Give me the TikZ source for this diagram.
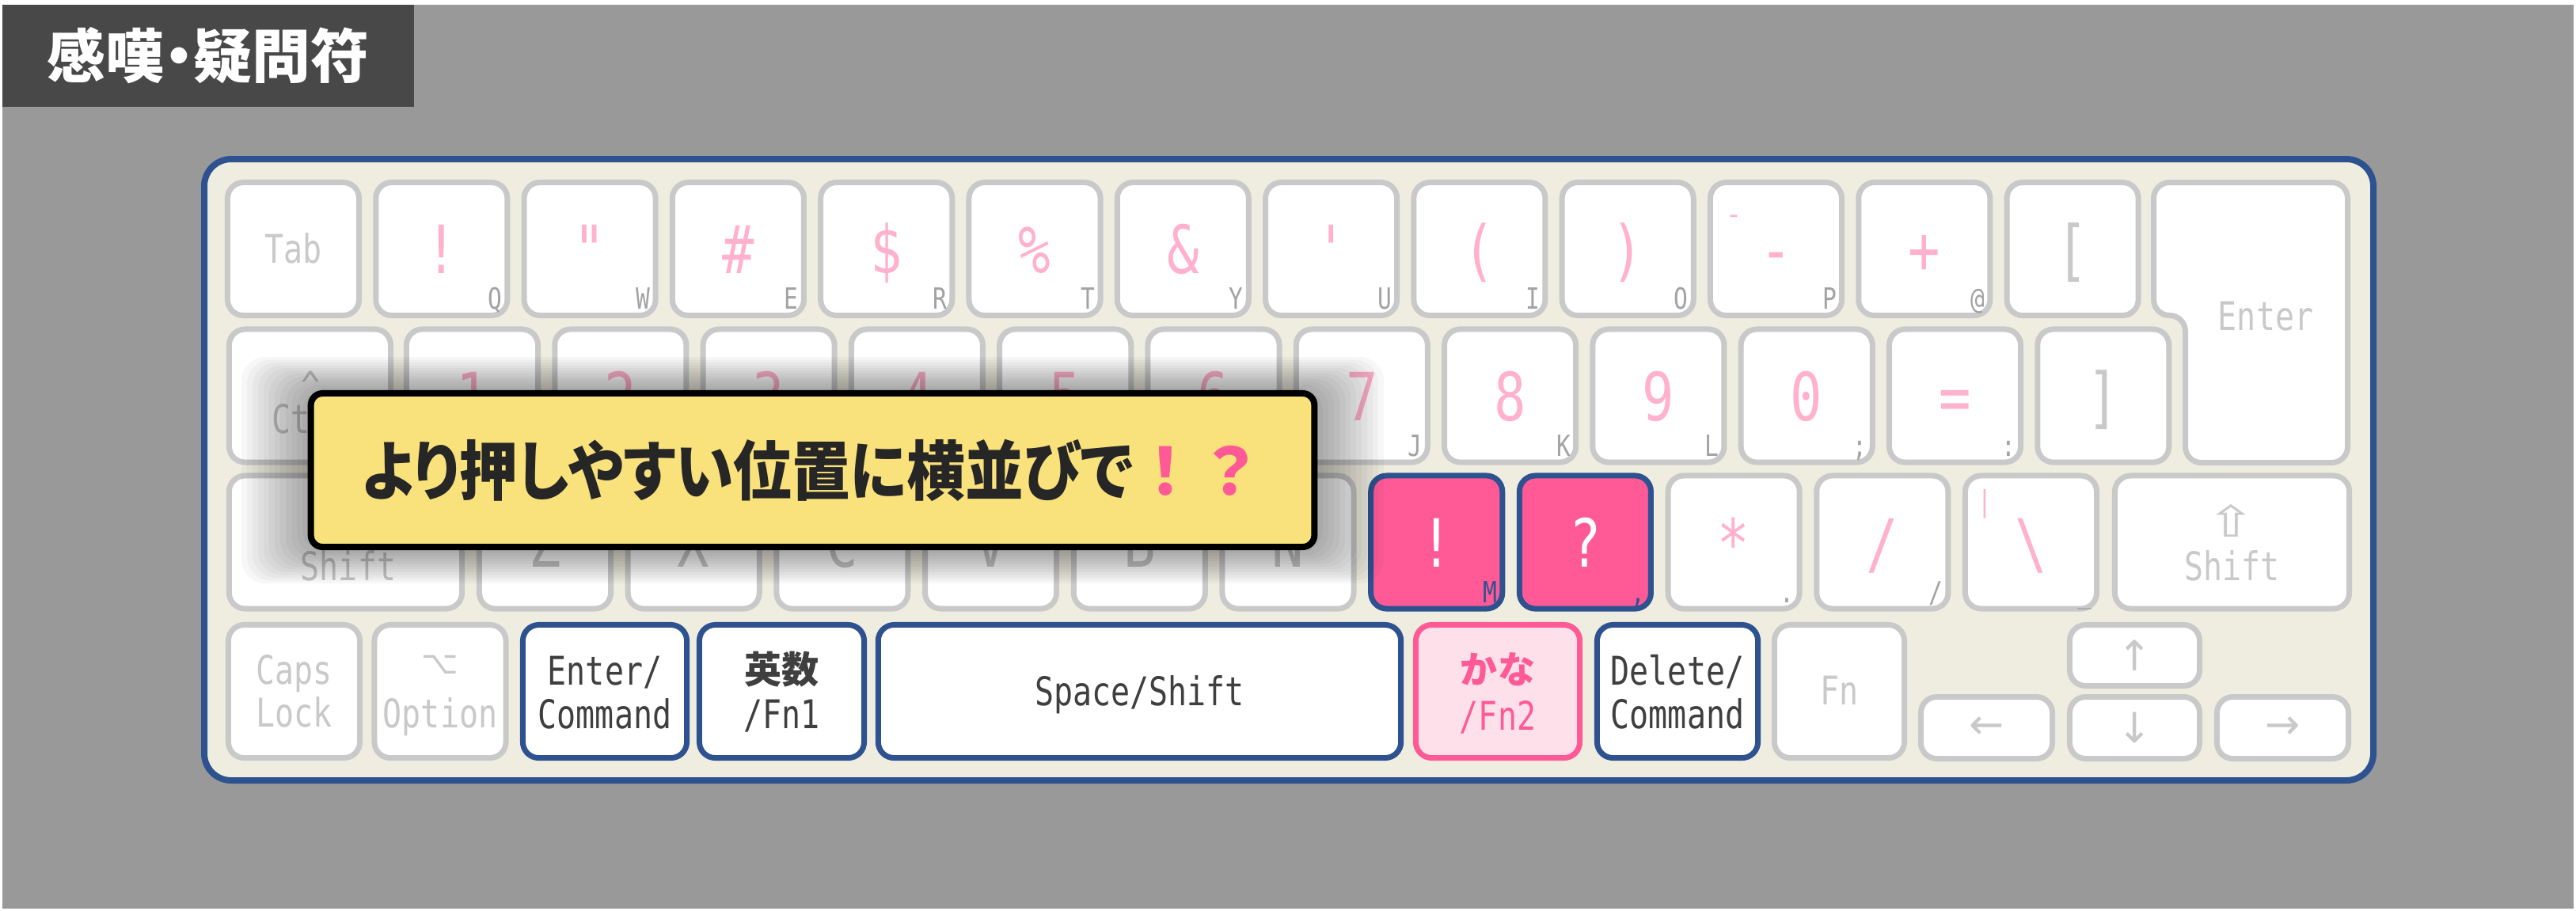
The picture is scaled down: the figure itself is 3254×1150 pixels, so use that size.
\documentclass[tikz,border=0pt]{standalone}
\usepackage{fontspec}
\usepackage{xcolor}
\newfontfamily\keyfont[FakeStretch=0.8,Ligatures=TeXOff]{DejaVu Sans Mono}
\newfontfamily\symfont{DejaVu Sans}
\newfontfamily\jpfont{Noto Sans CJK JP}
\newfontfamily\jppalt[RawFeature=+palt]{Noto Sans CJK JP}
\newfontfamily\jpnote[RawFeature=+palt,FakeStretch=0.9]{Noto Sans CJK JP}
\definecolor{bggray}{HTML}{999999}
\definecolor{titlegray}{HTML}{484848}
\definecolor{boardnavy}{HTML}{2E5290}
\definecolor{boardcream}{HTML}{EFEDE0}
\definecolor{capgray}{HTML}{C9C9C9}
\definecolor{lettergray}{HTML}{A3A3A3}
\definecolor{pinklight}{HTML}{FFB1CD}
\definecolor{pinkhot}{HTML}{FF5A96}
\definecolor{pinkpale}{HTML}{FDE0EA}
\definecolor{labeldark}{HTML}{3F3F3F}
\definecolor{noteyellow}{HTML}{F9E17B}
\definecolor{notetext}{HTML}{262626}
\tikzset{
    key-cap/.style = {draw=capgray, fill=white, line width=0.07cm, rounded corners=0.2cm, inner sep=0pt, minimum width=1.66cm, minimum height=1.68cm},
    key-cap-on/.style = {key-cap, draw=boardnavy},
    key-cap-hot/.style = {key-cap, draw=boardnavy, fill=pinkhot},
    key-cap-kana/.style = {key-cap, draw=pinkhot, fill=pinkpale},
    key-sym/.style = {font=\keyfont\fontsize{23.9}{28}\selectfont, text=pinklight, anchor=base, inner sep=0pt},
    key-letter/.style = {font=\keyfont\fontsize{10.5}{12}\selectfont, text=lettergray, anchor=base east, inner sep=0pt},
    key-name/.style = {font=\keyfont\fontsize{14.2}{17}\selectfont, text=capgray, anchor=base, inner sep=0pt},
    key-text/.style = {key-name, text=labeldark},
    key-icon/.style = {font=\symfont\fontsize{15}{18}\selectfont, text=capgray, inner sep=0pt},
    key-jp/.style = {font=\jpfont\bfseries\fontsize{13.4}{16}\selectfont, text=labeldark, inner sep=0pt},
    note-box/.style = {draw=black, fill=noteyellow, line width=0.08cm, rounded corners=0.15cm, minimum width=12.67cm, minimum height=1.94cm, inner sep=0pt},
}

\begin{document}
\begin{tikzpicture}[x=0.01cm, y=-0.01cm]
\useasboundingbox (0,0) rectangle (3254,1150);
\fill[white] (0,0) rectangle (3254,1150);
\fill[bggray] (3,6) rectangle (3251,1148);
\fill[titlegray] (3,6) rectangle (523,135);
\node[font=\jppalt\bfseries\fontsize{21}{25}\selectfont, text=white, inner sep=0pt] (title) at (263,70) {感嘆・疑問符};

% keyboard body
\draw[boardnavy, fill=boardcream, line width=0.08cm, rounded corners=0.34cm] (258,201) rectangle (2998,986);

% row 1
\node[key-cap] (tab) at (370.5,314.5) {};
\node[key-name] (tab-label) at (370.5,332) {Tab};
\foreach \s/\l [count=\i] in {!/Q, "/W, \#/E, \$/R, \%/T, \&/Y, '/U, {(}/I, {)}/O, -/P, +/@}{
    \node[key-cap] (top-\i) at (370.5+187.3*\i,314.5) {};
    \node[key-sym] (top-\i-sym) at ([yshift=-0.31cm]top-\i.center) {\s};
    \node[key-letter] (top-\i-letter) at ([xshift=-0.095cm,yshift=0.115cm]top-\i.south east) {\l};
}
\node[key-letter, text=pinklight, anchor=north west] (top-10-bar) at (2181,271) {¯};
\node[key-cap] (top-12) at (2618.1,314.5) {};
\node[key-sym, text=capgray] (top-12-sym) at ([yshift=-0.31cm]top-12.center) {[};
\draw[key-cap] (2720.5,230.5) -- (2965.5,230.5) -- (2965.5,584.5) -- (2760.5,584.5) -- (2760.5,398.5) -- (2720.5,398.5) -- cycle;
\node[key-name] (enter-label) at (2862,417) {Enter};

% row 2
\node[key-cap, minimum width=2.04cm] (ctrl) at (391.5,500) {};
\node[key-name] (ctrl-hat) at (393,505) {\textasciicircum};
\node[key-name] (ctrl-label) at (391.5,547) {Ctrl};
\foreach \s [count=\i from 0] in {1,2,3,4,5,6}{
    \node[key-cap] (home-\i) at (596.5+187.3*\i,500) {};
    \node[key-sym] (home-\i-sym) at ([yshift=-0.31cm]home-\i.center) {\s};
}
\foreach \s/\l [count=\i from 6] in {7/J, 8/K, 9/L, 0/;, =/:}{
    \node[key-cap] (home-\i) at (596.5+187.3*\i,500) {};
    \node[key-sym] (home-\i-sym) at ([yshift=-0.31cm]home-\i.center) {\s};
    \node[key-letter] (home-\i-letter) at ([xshift=-0.095cm,yshift=0.115cm]home-\i.south east) {\l};
}
\node[key-cap] (home-11) at (2656.8,500) {};
\node[key-sym, text=capgray] (home-11-sym) at ([yshift=-0.31cm]home-11.center) {]};

% row 3
\node[key-cap, minimum width=2.94cm] (shift-l) at (436.5,685) {};
\node[key-name] (shift-l-label) at (440,733) {Shift};
\foreach \s [count=\i from 0] in {Z,X,C,V,B,N}{
    \node[key-cap] (low-\i) at (688.5+187.7*\i,685) {};
    \node[key-sym, text=capgray] (low-\i-sym) at ([yshift=-0.31cm]low-\i.center) {\s};
}
\node[key-cap-hot] (bang) at (1814.7,685) {};
\node[key-sym, text=white] (bang-sym) at ([yshift=-0.31cm]bang.center) {!};
\node[key-letter, text=boardnavy] (bang-letter) at ([xshift=-0.095cm,yshift=0.115cm]bang.south east) {M};
\node[key-cap-hot] (query) at (2002.4,685) {};
\node[key-sym, text=white] (query-sym) at ([yshift=-0.31cm]query.center) {?};
\node[key-letter, text=boardnavy] (query-letter) at ([xshift=-0.095cm,yshift=0.115cm]query.south east) {,};
\node[key-cap] (star) at (2190.1,685) {};
\node[key-sym] (star-sym) at ([yshift=-0.31cm]star.center) {*};
\node[key-letter] (star-letter) at ([xshift=-0.095cm,yshift=0.115cm]star.south east) {.};
\node[key-cap] (slash) at (2377.8,685) {};
\node[key-sym] (slash-sym) at ([yshift=-0.31cm]slash.center) {/};
\node[key-letter] (slash-letter) at ([xshift=-0.095cm,yshift=0.115cm]slash.south east) {/};
\node[key-cap] (yen) at (2565.5,685) {};
\node[key-sym] (yen-sym) at ([yshift=-0.31cm]yen.center) {\textbackslash};
\node[key-letter] (yen-letter) at ([xshift=-0.095cm,yshift=0.115cm]yen.south east) {\_};
\node[key-letter, text=pinklight, anchor=north] (yen-bar) at (2507,618) {|};
\node[key-cap, minimum width=2.96cm] (shift-r) at (2819.5,685) {};
\node[key-icon, font=\symfont\fontsize{15.5}{18}\selectfont] (shift-r-icon) at (2818,658) {\scalebox{1.4}[1]{⇧}};
\node[key-name] (shift-r-label) at (2819.5,733) {Shift};

% row 4
\node[key-cap] (caps) at (371.5,873.5) {};
\node[key-name] (caps-top) at (371.5,864) {Caps};
\node[key-name] (caps-bottom) at (371.5,918) {Lock};
\node[key-cap] (option) at (556,873.5) {};
\node[key-icon, font=\symfont\fontsize{11.5}{14}\selectfont] (option-icon) at (556,840) {⌥};
\node[key-name] (option-label) at (556,919) {Option};
\node[key-cap-on, minimum width=2.07cm] (enter-cmd) at (764,873.5) {};
\node[key-text] (enter-cmd-top) at (764,865) {Enter/};
\node[key-text] (enter-cmd-bottom) at (764,920) {Command};
\node[key-cap-on, minimum width=2.08cm] (eisu) at (987.5,873.5) {};
\node[key-jp] (eisu-top) at (987.5,846) {英数};
\node[key-text] (eisu-bottom) at (987.5,920) {/Fn1};
\node[key-cap-on, minimum width=6.6cm] (space) at (1439.5,873.5) {};
\node[key-text] (space-label) at (1439.5,891) {Space/Shift};
\node[key-cap-kana, minimum width=2.07cm] (kana) at (1892,873.5) {};
\node[key-jp, text=pinkhot] (kana-top) at (1892,846) {かな};
\node[key-text, text=pinkhot] (kana-bottom) at (1892,922) {/Fn2};
\node[key-cap-on, minimum width=2.03cm] (delete-cmd) at (2119,873.5) {};
\node[key-text] (delete-cmd-top) at (2119,865) {Delete/};
\node[key-text] (delete-cmd-bottom) at (2119,920) {Command};
\node[key-cap, minimum width=1.64cm] (fn) at (2323.5,873.5) {};
\node[key-name] (fn-label) at (2323.5,890) {Fn};
\node[key-cap, minimum width=1.64cm, minimum height=0.77cm] (up) at (2696.5,828) {};
\node[key-icon] (up-icon) at (up) {↑};
\node[key-cap, minimum height=0.78cm] (left) at (2509.5,919.5) {};
\node[key-icon] (left-icon) at (left) {←};
\node[key-cap, minimum width=1.64cm, minimum height=0.78cm] (down) at (2696.5,919.5) {};
\node[key-icon] (down-icon) at (down) {↓};
\node[key-cap, minimum height=0.78cm] (right) at (2883.5,919.5) {};
\node[key-icon] (right-icon) at (right) {→};

% soft shadow under the note
\foreach \i in {1,...,12}
    \fill[black, opacity=0.03, rounded corners=0.3cm] (389-7*\i,493-3.5*\i) rectangle (1664+7*\i,695+3.5*\i);
\node[note-box] (note) at (1026.5,594) {\jpnote\bfseries\fontsize{23.3}{28}\selectfont\color{notetext}より押しやすい位置に横並びで\jpfont\color{pinkhot}！？};
\end{tikzpicture}
\end{document}
